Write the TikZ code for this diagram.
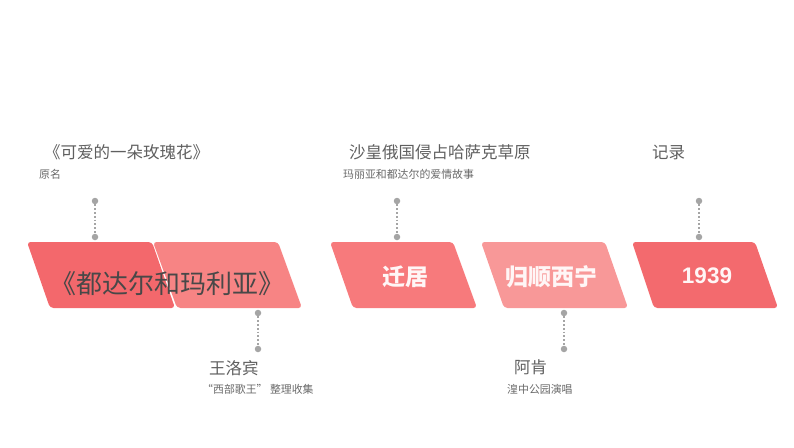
\documentclass[tikz,border=0pt]{standalone}
\usepackage{fontspec}
\setmainfont{Noto Sans CJK SC}
\newfontfamily\cjkfont{Noto Sans CJK SC}
\newfontfamily\arialfont{Liberation Sans}
\definecolor{pA}{RGB}{243,104,108}
\definecolor{pB}{RGB}{247,132,132}
\definecolor{pC}{RGB}{247,122,124}
\definecolor{pD}{RGB}{248,152,152}
\definecolor{pE}{RGB}{243,106,110}
\definecolor{dotgray}{RGB}{165,165,165}
\definecolor{titlegray}{RGB}{95,95,95}
\definecolor{subgray}{RGB}{105,105,105}
\definecolor{biggray}{RGB}{72,72,72}
\definecolor{boxtext}{RGB}{255,246,246}
\tikzset{
  dotnode/.style={circle,fill=dotgray,inner sep=0pt,minimum size=6.5pt},
  dotline/.style={draw=dotgray,line width=1.8pt,dash pattern=on 1.8pt off 2pt},
  titletext/.style={anchor=west,inner sep=0pt,text=titlegray,font=\cjkfont\fontsize{16.5}{18}\selectfont},
  subtext/.style={anchor=west,inner sep=0pt,text=subgray,font=\cjkfont\fontsize{10.9}{12}\selectfont},
  boxlabel/.style={inner sep=0pt,text=boxtext,font=\cjkfont\bfseries\fontsize{23}{26}\selectfont},
  para/.style={rounded corners=3.5pt}
}
\begin{document}
\begin{tikzpicture}[x=1pt,y=-1pt]
\useasboundingbox (0,0) rectangle (794,447);
% parallelograms
\fill[para,pA] (27,242) -- (152,242) -- (175,308) -- (50,308) -- cycle;
\fill[para,pB] (153,242) -- (278,242) -- (302,308) -- (177,308) -- cycle;
\fill[para,pC] (330,242) -- (453,242) -- (477,308) -- (353,308) -- cycle;
\fill[para,pD] (481,242) -- (605,242) -- (628,308) -- (504,308) -- cycle;
\fill[para,pE] (632,242) -- (755,242) -- (778,308) -- (654,308) -- cycle;
% labels in parallelograms
\node[inner sep=0pt,text=biggray,font=\cjkfont\fontsize{26}{28}\selectfont] (b1) at (167.5,284) {《都达尔和玛利亚》};
\node[boxlabel] (b3) at (405.5,276.5) {迁居};
\node[boxlabel] (b4) at (551.5,276.5) {归顺西宁};
\node[boxlabel,font=\arialfont\bfseries\fontsize{22.5}{26}\selectfont] (b5) at (707,276) {1939};
% dotted connectors
\node[dotnode] (d1a) at (95,201) {};
\node[dotnode] (d1b) at (95,237) {};
\draw[dotline] (d1a) -- (d1b);
\node[dotnode] (d2a) at (258,313) {};
\node[dotnode] (d2b) at (258,349) {};
\draw[dotline] (d2a) -- (d2b);
\node[dotnode] (d3a) at (397,201) {};
\node[dotnode] (d3b) at (397,237) {};
\draw[dotline] (d3a) -- (d3b);
\node[dotnode] (d4a) at (564,313) {};
\node[dotnode] (d4b) at (564,349) {};
\draw[dotline] (d4a) -- (d4b);
\node[dotnode] (d5a) at (699,201) {};
\node[dotnode] (d5b) at (699,237) {};
\draw[dotline] (d5a) -- (d5b);
% texts
\node[titletext] (t1) at (44,152) {《可爱的一朵玫瑰花》};
\node[subtext] (s1) at (39,174) {原名};
\node[titletext] (t2) at (209,368) {王洛宾};
\node[subtext] (s2) at (202,389) {“西部歌王” 整理收集};
\node[titletext] (t3) at (349,152) {沙皇俄国侵占哈萨克草原};
\node[subtext] (s3) at (343,174) {玛丽亚和都达尔的爱情故事};
\node[titletext] (t4) at (514,367) {阿肯};
\node[subtext] (s4) at (507,389) {湟中公园演唱};
\node[titletext] (t5) at (652,152) {记录};
\end{tikzpicture}
\end{document}
